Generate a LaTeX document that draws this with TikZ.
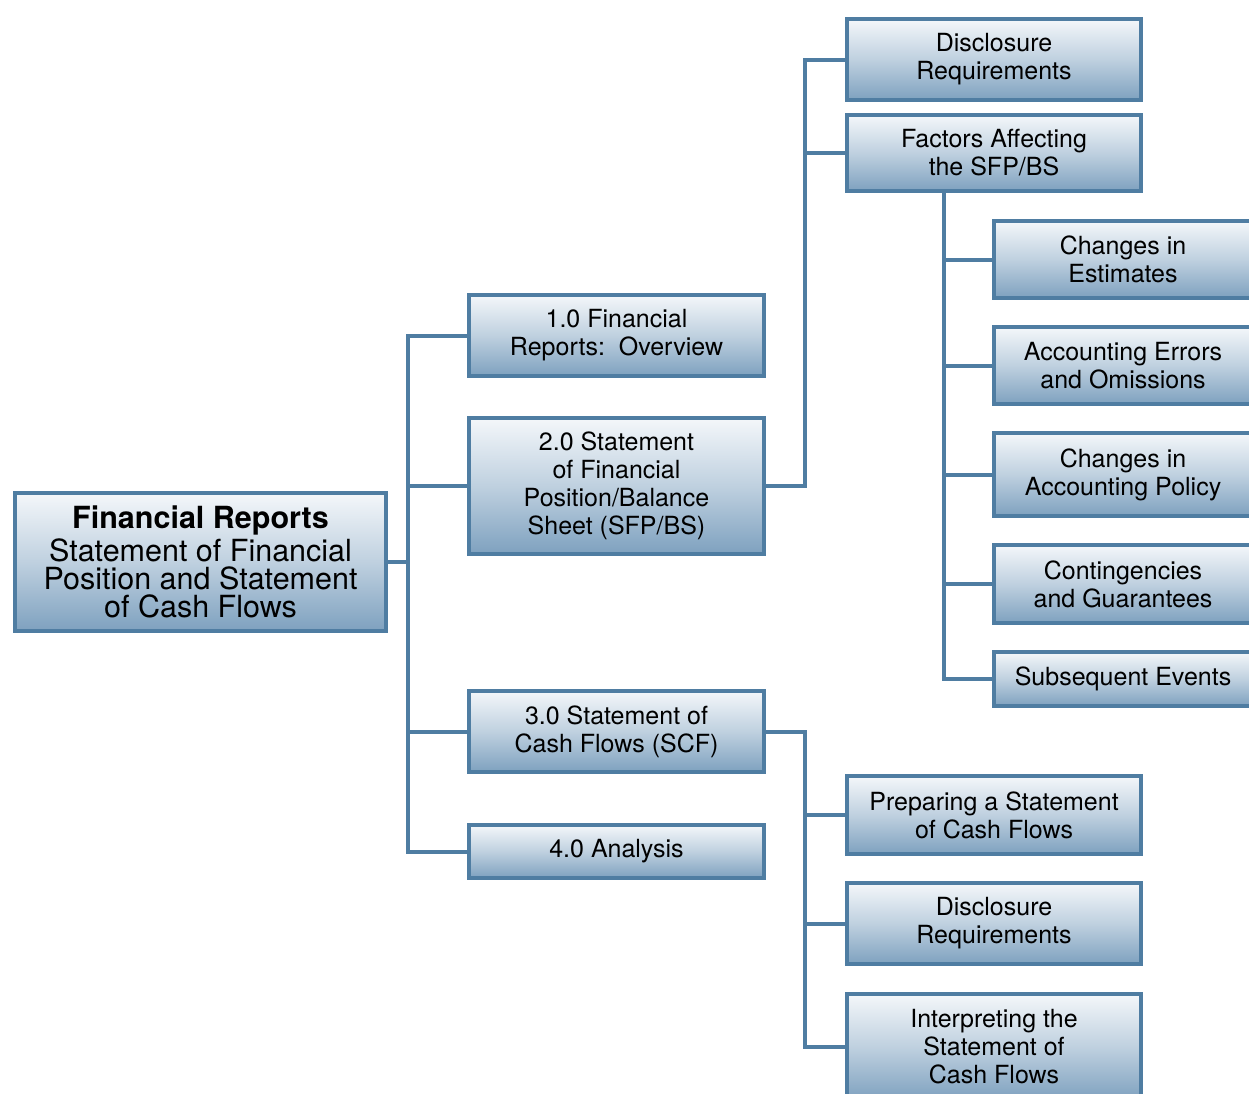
\documentclass[tikz,border=0pt]{standalone}
\usepackage{fontspec}
\setmainfont{TeX Gyre Heros}
\definecolor{bcol}{HTML}{4F7DA2}
\definecolor{topc}{HTML}{F4F7FA}
\definecolor{botc}{HTML}{7EA1BF}
\tikzset{
  box/.style={draw=bcol, line width=4.5pt, top color=topc, bottom color=botc, middle color=botc!45!topc,
    inner sep=0pt, align=center, font=\fontsize{25}{28}\selectfont},
  rootbox/.style={box, font=\fontsize{30.5}{28}\selectfont},
  conn/.style={draw=bcol, line width=4pt, line cap=rect}
}
\newcommand{\bx}[8][box]{\node[#1, minimum width=#6pt, minimum height=#7pt] (#2) at (#3,#4) {#8};}
\begin{document}
\begin{tikzpicture}[x=1pt,y=-1pt]
\useasboundingbox (0,0) rectangle (1249,1093);
\clip (0,0) rectangle (1249,1093);
% nodes
\bx[rootbox]{root}{200.5}{562}{}{371}{138}{{\bfseries Financial Reports}\\[3pt]Statement of Financial\\Position and Statement\\of Cash Flows}
\bx{n1}{616.5}{335.5}{}{295}{81}{1.0 Financial\\Reports:\ \ Overview}
\bx{n2}{616.5}{486}{}{295}{136}{2.0 Statement\\of Financial\\Position/Balance\\Sheet (SFP/BS)}
\bx{n3}{616.5}{731.5}{}{295}{81}{3.0 Statement of\\Cash Flows (SCF)}
\bx{n4}{616.5}{851.5}{}{295}{53}{4.0 Analysis}
\bx{d1}{994}{59.5}{}{294}{81}{Disclosure\\Requirements}
\bx{f}{994}{153}{}{294}{76}{Factors Affecting\\the SFP/BS}
\bx{c1}{1123}{259.5}{}{258}{77}{Changes in\\Estimates}
\bx{c2}{1123}{365.5}{}{258}{77}{Accounting Errors\\and Omissions}
\bx{c3}{1123}{474.5}{}{258}{83}{Changes in\\Accounting Policy}
\bx{c4}{1123}{584}{}{258}{78}{Contingencies\\and Guarantees}
\bx{c5}{1123}{679}{}{258}{54}{Subsequent Events}
\bx{p}{994}{815}{}{294}{78}{Preparing a Statement\\of Cash Flows}
\bx{d2}{994}{923.5}{}{294}{81}{Disclosure\\Requirements}
\bx{ip}{994}{1047}{}{294}{106}{Interpreting the\\Statement of\\Cash Flows}
% junction coordinates
\coordinate (t) at (408,562);
\coordinate (u) at (805,486);
\coordinate (w) at (805,731.5);
\coordinate (v) at (944,193);
% connectors
\draw[conn] (root.east) -- (t);
\draw[conn] (n1.west) -| (t) |- (n4.west);
\draw[conn] (n2.west) -- (n2.west -| t);
\draw[conn] (n3.west) -- (n3.west -| t);
\draw[conn] (n2.east) -- (u) |- (d1.west);
\draw[conn] (f.west) -- (f.west -| u);
\draw[conn] (v) |- (c5.west);
\draw[conn] (c1.west) -- (c1.west -| v);
\draw[conn] (c2.west) -- (c2.west -| v);
\draw[conn] (c3.west) -- (c3.west -| v);
\draw[conn] (c4.west) -- (c4.west -| v);
\draw[conn] (n3.east) -- (w) |- (ip.west);
\draw[conn] (p.west) -- (p.west -| w);
\draw[conn] (d2.west) -- (d2.west -| w);
\end{tikzpicture}
\end{document}
